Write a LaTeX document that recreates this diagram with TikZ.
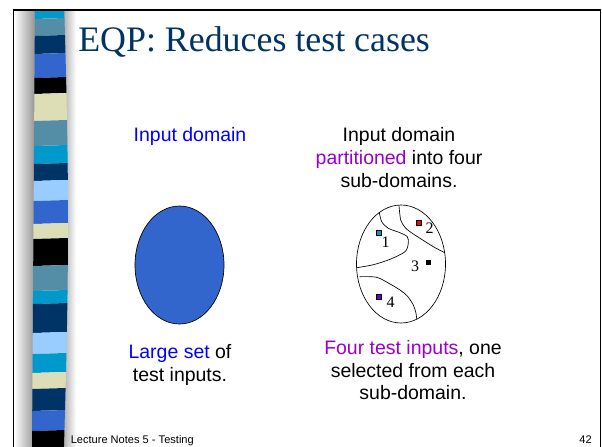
\documentclass[tikz,border=0pt]{standalone}
\usepackage{fontspec}
\setmainfont{Liberation Serif}
\setsansfont{Liberation Sans}
\usetikzlibrary{positioning}

\definecolor{stcyan}{RGB}{0,153,204}
\definecolor{ststeel}{RGB}{84,141,166}
\definecolor{stnavy}{RGB}{0,51,102}
\definecolor{stroyal}{RGB}{51,102,204}
\definecolor{stbeige}{RGB}{221,221,182}
\definecolor{stlight}{RGB}{153,204,255}
\definecolor{titleblue}{RGB}{0,51,102}
\definecolor{hiblue}{RGB}{0,0,255}
\definecolor{hipurple}{RGB}{153,0,204}
\definecolor{sqviolet}{RGB}{102,0,204}

\begin{document}
\begin{tikzpicture}[x=0.75pt,y=-0.75pt,
  txt/.style={font=\sffamily\fontsize{14.6}{17}\selectfont,align=center,inner sep=0pt},
  num/.style={font=\fontsize{12}{12}\selectfont,inner sep=0pt},
  sqr/.style={draw=black,line width=0.4pt,minimum size=3.6pt,inner sep=0pt}]
\useasboundingbox (0,0) rectangle (602,446);
\fill[white] (0,0) rectangle (602,446);
% shadow beside the stripes
\shade[left color=white,right color=black!42] (14,10) rectangle (35,446);
\shade[left color=black!35,right color=white] (62,10) rectangle (76,446);
% the stripes
\foreach \ya/\yb/\col in {10/18/stcyan,18/35/ststeel,35/53/stnavy,53/77/stroyal,
  77/93/black,93/120/stbeige,120/145/ststeel,145/163/stcyan,163/180/stnavy,
  180/200/stlight,200/223/stroyal,223/238/stbeige,238/265/black,265/290/ststeel,
  290/303/stcyan,303/332/stnavy,332/353/stlight,353/372/stcyan,372/388/stbeige,
  388/410/stnavy,410/430/stroyal,430/447/black}
  \fill[\col] ({35-3*\ya/446},\ya+1) -- ({64+4*sin(0.4036*\ya)},\ya)
    -- ({64+4*sin(0.4036*\yb)},\yb) -- ({35-3*\yb/446},\yb+1) -- cycle;
% frame
\draw[line width=1.1pt] (13.5,447) -- (13.5,10) -- (600.5,10) -- (600.5,447);

\node[anchor=base west,inner sep=0pt,text=titleblue,
  font=\fontsize{26.9}{27}\selectfont] (title) at (78,51) {EQP: Reduces test cases};

% left: whole domain
\node[txt,anchor=north,text=hiblue] (lbldomain) at (190,127.5) {Input domain};
\coordinate (bigc) at (179.5,265);
\draw[fill=stroyal,line width=0.5pt] (bigc) ellipse [x radius=44.5,y radius=59];
\node[txt,anchor=north] (lblbig) at (180,344)
  {\textcolor{hiblue}{Large set} of\\test inputs.};

% right: partitioned domain
\node[txt,anchor=north] (lblpart) at (399,127.5)
  {Input domain\\\textcolor{hipurple}{partitioned} into four\\sub-domains.};
\coordinate (partc) at (401,264);
\draw[line width=0.5pt] (partc) ellipse [x radius=44.5,y radius=59];
\draw[line width=0.5pt] plot[smooth] coordinates {(379.3,212.5) (381.7,221.7) (388.3,228.3)
  (400,232.7) (407.3,236.7) (408.3,243.3) (405,251.7) (390,259.3) (373.3,264.7) (356.8,267.7)};
\draw[line width=0.5pt] plot[smooth] coordinates {(399,205.3) (400.7,220) (405,227.3)
  (410,231.7) (420,238.3) (433.3,246.7) (444.8,252.7)};
\draw[line width=0.5pt] plot[smooth] coordinates {(359.5,276.7) (376.7,277.3) (390,284)
  (400,290) (407.3,296) (413.3,305) (416,313.3) (416.7,319.2)};

\node[sqr,fill=stcyan] (sq1) at (379,232.7) {};
\node[sqr,fill=red] (sq2) at (418.7,222.7) {};
\node[sqr,fill=black] (sq3) at (428.3,262.3) {};
\node[sqr,fill=sqviolet] (sq4) at (379,296.7) {};
\node[num] (num1) at (385.7,242.5) {1};
\node[num] (num2) at (429.5,228.5) {2};
\node[num] (num3) at (415,266.5) {3};
\node[num] (num4) at (390.5,302) {4};

\node[txt,anchor=north] (lblfour) at (413,340)
  {\textcolor{hipurple}{Four test inputs}, one\\selected from each\\sub-domain.};

% footer
\node[anchor=north west,inner sep=0pt,font=\sffamily\fontsize{8.3}{8.3}\selectfont]
  (footer) at (70.5,435) {Lecture Notes 5 - Testing};
\node[anchor=north east,inner sep=0pt,font=\sffamily\fontsize{8.3}{8.3}\selectfont]
  (pagenum) at (592,435) {42};
\end{tikzpicture}
\end{document}
